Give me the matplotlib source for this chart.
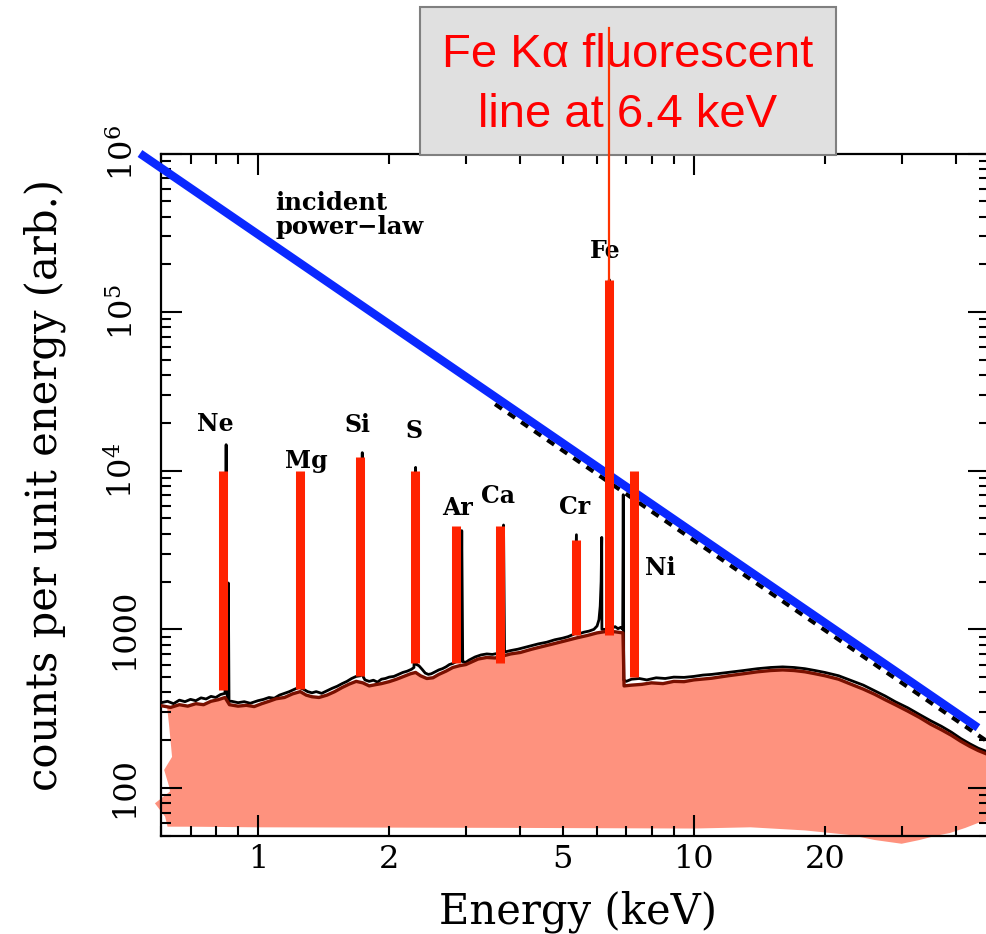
import matplotlib
matplotlib.use('Agg')
import math
import matplotlib.pyplot as plt
from matplotlib.lines import Line2D
from matplotlib.patches import Rectangle
from matplotlib.ticker import FixedLocator, FuncFormatter, NullFormatter, LogLocator

plt.rcParams['font.family'] = 'DejaVu Serif'
plt.rcParams['mathtext.fontset'] = 'dejavuserif'

# incident power-law (end points of the straight log-log line)
plaw_E = [0.536, 44.9]
plaw_C = [1.0e6, 240]

# dashed total spectrum, just under the power-law
dash_E = [3.5, 47.5]
dash_C = [26300, 194]

# total spectrum (black): reflected continuum + fluorescent lines
total_E = [0.60, 0.62, 0.64, 0.66, 0.68, 0.70, 0.72, 0.74, 0.76, 0.78, 0.80, 0.82, 0.84,
           0.845, 0.849, 0.852, 0.855, 0.858,
           0.87, 0.90, 0.93, 0.96, 1.00, 1.03, 1.06, 1.09, 1.12, 1.15, 1.18, 1.21, 1.24,
           1.248, 1.256,
           1.27, 1.30, 1.33, 1.36, 1.40, 1.44, 1.48, 1.52, 1.56, 1.60, 1.64, 1.68, 1.72,
           1.735, 1.745,
           1.76, 1.80, 1.84, 1.88, 1.92, 1.96, 2.00, 2.05, 2.10, 2.15, 2.20, 2.25, 2.28,
           2.30,
           2.31, 2.34, 2.38, 2.42, 2.46, 2.50, 2.55, 2.60, 2.65, 2.70, 2.75, 2.80, 2.85, 2.92,
           2.935,
           2.95, 3.00, 3.05, 3.15, 3.25, 3.35, 3.45, 3.55, 3.64,
           3.66,
           3.68, 3.80, 3.95, 4.10, 4.25, 4.40, 4.60, 4.80, 5.00, 5.15, 5.30,
           5.38,
           5.40, 5.50, 5.60, 5.75, 5.90, 6.00, 6.06, 6.10, 6.13, 6.15, 6.155, 6.36,
           6.40,
           6.44, 6.50, 6.60, 6.70, 6.80, 6.87,
           6.89,
           6.91, 7.00, 7.20, 7.50, 7.80, 8.20, 8.60, 9.00, 9.50, 10.0, 10.5, 11.0, 12.0,
           13.0, 14.0, 15.0, 16.0, 17.0, 18.0, 19.0, 20.0, 21.5, 23.0, 24.5, 26.0, 27.5,
           29.0, 31.0, 33.0, 35.0, 37.0, 39.0, 41.0, 43.0, 45.0, 47.5]
total_C = [345, 352, 340, 358, 350, 362, 355, 370, 364, 378, 372, 388, 395,
           14600, 395, 360, 1960, 352,
           352, 345, 350, 342, 355, 362, 372, 368, 385, 395, 405, 418, 430,
           9500, 425,
           420, 405, 398, 405, 395, 410, 425, 438, 455, 470, 490, 505, 510,
           13000, 500,
           480, 470, 478, 465, 485, 490, 500, 505, 520, 535, 545, 560, 575,
           10500,
           600, 590, 560, 530, 520, 525, 540, 555, 565, 580, 600, 610, 625, 630,
           4190,
           625, 620, 640, 670, 690, 700, 695, 705, 715,
           4550,
           720, 735, 750, 770, 790, 810, 830, 860, 880, 900, 930,
           3950,
           935, 945, 960, 975, 1000, 1050, 1150, 1400, 2000, 3800, 1000, 1000,
           160000,
           1020, 1020, 1040, 1010, 1030, 1000,
           7060,
           480, 470, 485, 490, 480, 495, 490, 500, 498, 505, 515, 520, 535,
           550, 565, 575, 580, 575, 565, 550, 535, 510, 475, 445, 410, 380,
           350, 320, 290, 265, 245, 225, 205, 190, 178, 168]

# reflected continuum (dark red)
refl_E = [0.60, 0.63, 0.66, 0.69, 0.72, 0.75, 0.78, 0.81, 0.84, 0.86, 0.90, 0.94, 0.98,
          1.02, 1.06, 1.10, 1.15, 1.20, 1.25, 1.29, 1.33, 1.38, 1.44, 1.50, 1.56, 1.62,
          1.68, 1.74, 1.80, 1.86, 1.92, 2.00, 2.08, 2.16, 2.24, 2.30, 2.36, 2.44, 2.52,
          2.60, 2.70, 2.80, 2.90, 3.00, 3.10, 3.20, 3.35, 3.50, 3.65, 3.80, 4.00, 4.25,
          4.50, 4.80, 5.10, 5.40, 5.70, 6.00, 6.30, 6.60, 6.88, 6.92, 7.2, 7.6, 8.0, 8.5,
          9.0, 9.5, 10, 11, 12, 13, 14, 15, 16, 17, 18, 19, 20, 21.5, 23, 24.5, 26, 27.5,
          29, 31, 33, 35, 37, 39, 41, 43, 45, 47.5]
refl_C = [330, 322, 335, 328, 340, 335, 352, 360, 372, 335, 328, 332, 326,
          340, 352, 365, 372, 392, 405, 385, 376, 372, 385, 405, 430, 452,
          470, 460, 440, 448, 455, 468, 485, 505, 525, 535, 510, 490, 495,
          520, 545, 575, 590, 600, 625, 650, 665, 660, 680, 700, 715, 750,
          780, 815, 850, 885, 915, 950, 970, 965, 950, 440, 445, 450, 460, 455,
          470, 468, 480, 492, 510, 525, 540, 550, 555, 550, 540, 525, 510, 485, 450, 420, 390, 360,
          335, 305, 278, 252, 233, 215, 197, 183, 172, 162]

# lower / left outline of the shaded reflection region (right to left)
shade_E = [48.5, 48.5, 44.8, 42, 38.7, 36, 33, 30, 26, 22.9, 18, 13.5, 10, 4, 1, 0.7,
           0.62, 0.612, 0.580, 0.628, 0.626, 0.609, 0.635, 0.625, 0.618]
shade_C = [160, 63, 60, 56, 52, 50, 47, 44.5, 47, 50.5, 54, 56.5, 55.5, 56, 56.5, 57,
           57, 66, 80, 95, 101, 130, 157, 250, 330]

# fluorescent line markers
line_names = ['Ne', 'Mg', 'Si', 'S', 'Ar', 'Ca', 'Cr', 'Fe', 'Ni']
line_E = [0.832, 1.246, 1.714, 2.293, 2.848, 3.593, 5.37, 6.4, 7.29]
line_top = [1.0e4, 1.0e4, 1.22e4, 1.0e4, 4500, 4500, 3650, 1.6e5, 1.0e4]
line_base = [415, 420, 505, 615, 615, 615, 925, 925, 500]
fe_marker_top = 6.2e6

# where the element names sit
label_E = [0.800, 1.294, 1.696, 2.28, 2.877, 3.555, 5.34, 6.26, 8.37]
label_C = [19800, 11600, 19500, 17700, 5850, 6890, 5930, 2.44e5, 2440]

W, H = 987, 934
fig = plt.figure(figsize=(W / 100, H / 100), dpi=100)
ax = fig.add_axes([160.7 / W, (H - 836) / H, (989 - 160.7) / W, (836 - 153.5) / H])
ax.set_xscale('log')
ax.set_yscale('log')
ax.set_xlim(0.598, 47.6)
ax.set_ylim(49.8, 1.0e6)

salmon = '#fe927e'
ax.fill(refl_E + shade_E, refl_C + shade_C, color=salmon, lw=0, zorder=1, clip_on=False)
ax.plot(total_E, total_C, color='black', lw=2.0, zorder=2)
ax.plot(refl_E, refl_C, color='#7a1000', lw=2.4, zorder=3)
ax.plot(dash_E, dash_C, color='black', lw=3.0, ls=(0, (2.0, 1.8)), zorder=3)
ax.plot(plaw_E, plaw_C, color='#0a28ff', lw=6.0, solid_capstyle='butt', zorder=4, clip_on=False)
ax.vlines(line_E, line_base, line_top, color='#ff2200', lw=6.5, zorder=5)

for name, e, c in zip(line_names, label_E, label_C):
    ax.text(e, c, name, ha='center', va='center', fontsize=17, fontweight='bold', zorder=6)
ax.text(1.094, 4.1e5, 'incident\npower\u2212law', ha='left', va='center',
        fontsize=17.5, fontweight='bold', linespacing=1.0, zorder=6)

# axes, ticks and labels
for sp in ax.spines.values():
    sp.set_linewidth(1.6)
ax.xaxis.set_major_locator(FixedLocator([1, 10]))
ax.xaxis.set_minor_locator(FixedLocator([0.6, 0.7, 0.8, 0.9, 2, 3, 4, 5, 6, 7, 8, 9, 20, 30, 40]))
ax.xaxis.set_major_formatter(FuncFormatter(lambda v, p: '%g' % v))
ax.xaxis.set_minor_formatter(FuncFormatter(lambda v, p: '%g' % v if v in (2, 5, 20) else ''))
ax.yaxis.set_major_locator(LogLocator(base=10, numticks=20))
ax.yaxis.set_minor_locator(LogLocator(base=10, subs=range(2, 10), numticks=20))


def ylab(v, pos):
    if v < 5000:
        return '%d' % round(v)
    return r'$\mathregular{10^{%d}}$' % round(math.log10(v))


ax.yaxis.set_major_formatter(FuncFormatter(ylab))
ax.yaxis.set_minor_formatter(NullFormatter())
ax.tick_params(which='both', direction='in', top=True, right=True, width=1.5, labelsize=23)
ax.tick_params(which='major', length=15)
ax.tick_params(which='minor', length=7.5)
ax.tick_params(axis='x', which='both', pad=6)
ax.tick_params(axis='y', which='both', pad=15, labelrotation=90)
for lbl in ax.get_yticklabels():
    lbl.set_va('center')

fig.text(578 / W, 1 - 912 / H, 'Energy (keV)', ha='center', va='center', fontsize=30)
fig.text(45 / W, 1 - 485 / H, 'counts per unit energy (arb.)', ha='center', va='center',
         fontsize=30, rotation=90)

# callout box for the iron line
fig.add_artist(Rectangle((420 / W, 1 - 155 / H), 416 / W, 148 / H, transform=fig.transFigure,
                         facecolor='#e0e0e0', edgecolor='#808080', lw=1.5, zorder=5))
fig.add_artist(Line2D([6.4, 6.4], [line_top[7], fe_marker_top], transform=ax.transData,
                      color='#ff3300', lw=1.6, zorder=7))
fig.text(628 / W, 1 - 55 / H, 'Fe K\u03b1 fluorescent', ha='center', va='center',
         fontsize=34, color='#ff0000', family='Liberation Sans', zorder=6)
fig.text(628 / W, 1 - 115 / H, 'line at 6.4 keV', ha='center', va='center',
         fontsize=34, color='#ff0000', family='Liberation Sans', zorder=6)

fig.savefig('out.png', dpi=100)
